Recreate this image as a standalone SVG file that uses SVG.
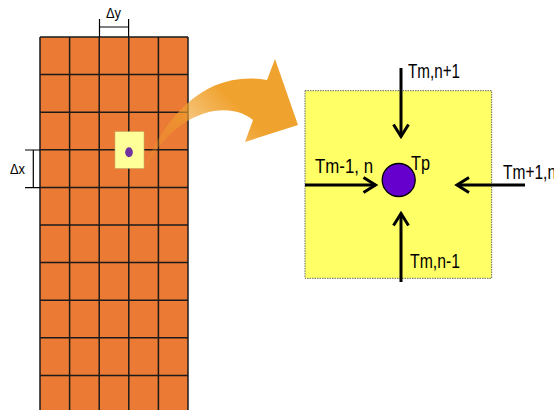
<svg xmlns="http://www.w3.org/2000/svg" width="554" height="410" viewBox="0 0 554 410">
<defs>
<style>
.grid{stroke:#1a1a1a;stroke-width:1.5;fill:none}
.lbl{font-family:"Liberation Sans Narrow","Liberation Sans",Arial,sans-serif;fill:#000}
.conn{stroke:#000;stroke-width:3;fill:none}
.dim{stroke:#000;stroke-width:1.2;fill:none}
</style>
<marker id="chev" markerUnits="userSpaceOnUse" markerWidth="20" markerHeight="20" viewBox="-16 -10 20 20" refX="0" refY="0" orient="auto">
<path d="M-12,-7.5 L0,0 L-12,7.5" stroke="#000" stroke-width="3" fill="none" stroke-linejoin="miter"/>
</marker>
<linearGradient id="ag" gradientUnits="userSpaceOnUse" x1="145" y1="165" x2="225" y2="92">
<stop offset="0" stop-color="#F0A22E" stop-opacity="0.1"/>
<stop offset="0.55" stop-color="#F0A22E" stop-opacity="0.6"/>
<stop offset="1" stop-color="#F0A22E" stop-opacity="1"/>
</linearGradient>
</defs>

<g id="grid">
<rect x="40" y="37" width="148" height="380" fill="#EA7A34"/>
<g class="grid">
<line x1="40" y1="37" x2="40" y2="410"/>
<line x1="69.6" y1="37" x2="69.6" y2="410"/>
<line x1="99.2" y1="37" x2="99.2" y2="410"/>
<line x1="128.8" y1="37" x2="128.8" y2="410"/>
<line x1="158.4" y1="37" x2="158.4" y2="410"/>
<line x1="188" y1="37" x2="188" y2="410"/>
<line x1="40" y1="37" x2="188" y2="37"/>
<line x1="40" y1="74.6" x2="188" y2="74.6"/>
<line x1="40" y1="112.2" x2="188" y2="112.2"/>
<line x1="40" y1="149.8" x2="188" y2="149.8"/>
<line x1="40" y1="187.4" x2="188" y2="187.4"/>
<line x1="40" y1="225" x2="188" y2="225"/>
<line x1="40" y1="262.6" x2="188" y2="262.6"/>
<line x1="40" y1="300.2" x2="188" y2="300.2"/>
<line x1="40" y1="337.8" x2="188" y2="337.8"/>
<line x1="40" y1="375.4" x2="188" y2="375.4"/>
</g>
</g>

<g id="dy">
<path class="dim" d="M99.5,19 V37 M128.6,19 V37 M99.5,27 H128.6"/>
<text class="lbl" x="106" y="18" font-size="14" textLength="15" lengthAdjust="spacingAndGlyphs">Δy</text>
</g>
<g id="dx">
<path class="dim" d="M25,150 H40 M25,187.6 H40 M33.3,150 V187.6"/>
<text class="lbl" x="10" y="174" font-size="15" textLength="15" lengthAdjust="spacingAndGlyphs">Δx</text>
</g>

<g id="cell">
<rect x="115" y="131.7" width="29" height="36.6" fill="#FFFF99" stroke="#C8B070" stroke-width="0.6"/>
<ellipse cx="129" cy="152.3" rx="3.8" ry="5" fill="#7030A0"/>
</g>

<g id="bigarrow">
<path d="M144,167 C168,112 208,70 267,80 L275,59 L298,125 L245,142 L253,120 C230,100 176,108 146,168 Z" fill="url(#ag)"/>
</g>

<g id="zoomcell">
<rect x="305" y="90.7" width="186.7" height="187.6" fill="#FFFF66" stroke="#666" stroke-width="1" stroke-dasharray="1.5,1"/>
</g>

<g id="connectors">
<line class="conn" x1="401" y1="68" x2="401" y2="136.5" marker-end="url(#chev)"/>
<line class="conn" x1="401" y1="282" x2="401" y2="213.5" marker-end="url(#chev)"/>
<line class="conn" x1="305" y1="185" x2="375.5" y2="185" marker-end="url(#chev)"/>
<line class="conn" x1="525" y1="185" x2="457" y2="185" marker-end="url(#chev)"/>
</g>

<g id="tp">
<circle cx="398.7" cy="180" r="16.5" fill="#6600CC" stroke="#000" stroke-width="1.3"/>
<text class="lbl" x="411" y="170" font-size="21" textLength="19" lengthAdjust="spacingAndGlyphs">Tp</text>
</g>
<g id="labels">
<text class="lbl" x="408" y="78" font-size="20" textLength="52" lengthAdjust="spacingAndGlyphs">Tm,n+1</text>
<text class="lbl" x="315" y="173" font-size="20" textLength="58" lengthAdjust="spacingAndGlyphs">Tm-1, n</text>
<text class="lbl" x="503" y="179" font-size="20" textLength="53" lengthAdjust="spacingAndGlyphs">Tm+1,n</text>
<text class="lbl" x="410" y="268" font-size="20" textLength="50" lengthAdjust="spacingAndGlyphs">Tm,n-1</text>
</g>
</svg>
